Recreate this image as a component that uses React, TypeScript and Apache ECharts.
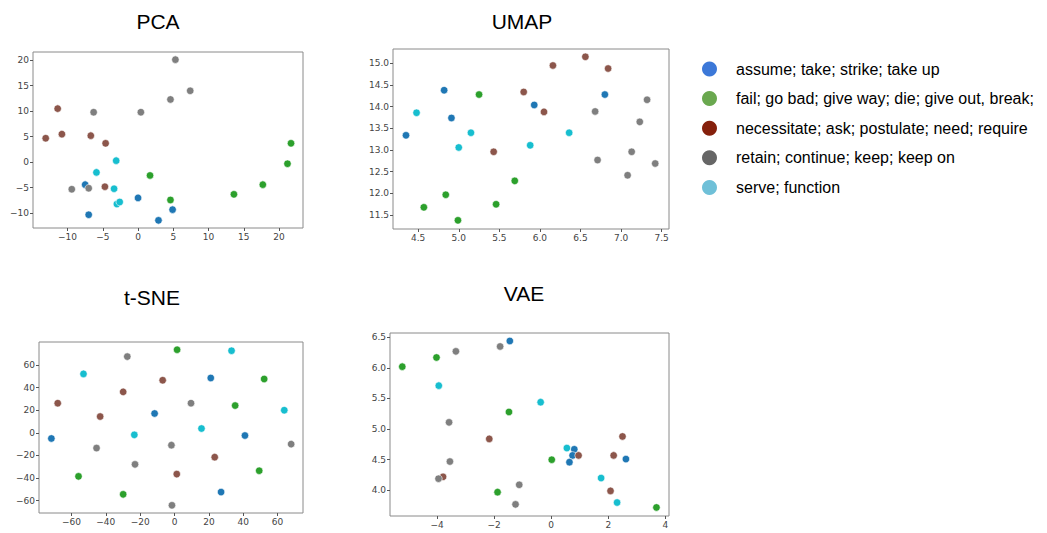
import React, { useEffect, useRef } from "react";
import * as echarts from "echarts";

const categories = [
  "assume; take; strike; take up",
  "fail; go bad; give way; die; give out, break;",
  "necessitate; ask; postulate; need; require",
  "retain; continue; keep; keep on",
  "serve; function",
];
const plotColors = ["#1f77b4", "#2ca02c", "#8c564b", "#7f7f7f", "#17becf"];
const legendColors = ["#3c78d8", "#6aa84f", "#85200c", "#666666", "#6fc0d8"];
const titles = ["PCA", "UMAP", "t-SNE", "VAE"];

// PCA
const pcaAssume = [[-7.5, -4.4], [-7.0, -10.3], [0.0, -7.0], [4.9, -9.3], [2.9, -11.4]];
const pcaFail = [[1.7, -2.6], [4.6, -7.4], [13.6, -6.3], [17.7, -4.4], [21.2, -0.3], [21.7, 3.7]];
const pcaNecessitate = [[-11.4, 10.5], [-13.1, 4.7], [-10.8, 5.5], [-6.7, 5.2], [-4.6, 3.7], [-4.7, -4.8]];
const pcaRetain = [[5.3, 20.1], [7.4, 14.0], [4.6, 12.3], [0.4, 9.8], [-6.3, 9.8], [-9.4, -5.3], [-7.0, -5.1]];
const pcaServe = [[-3.1, 0.3], [-5.9, -2.0], [-3.4, -5.2], [-3.0, -8.2], [-2.6, -7.8]];

// UMAP
const umapAssume = [[4.82, 14.38], [4.35, 13.34], [4.91, 13.74], [5.93, 14.04], [6.8, 14.28]];
const umapFail = [[5.25, 14.28], [5.69, 12.29], [4.84, 11.97], [4.57, 11.68], [5.46, 11.75], [4.99, 11.38]];
const umapNecessitate = [[6.56, 15.15], [6.16, 14.95], [6.84, 14.88], [5.8, 14.34], [6.05, 13.88], [5.43, 12.96]];
const umapRetain = [[7.32, 14.16], [6.68, 13.89], [7.23, 13.65], [7.13, 12.96], [6.71, 12.77], [7.42, 12.69], [7.08, 12.42]];
const umapServe = [[4.48, 13.86], [5.15, 13.4], [5.0, 13.06], [5.88, 13.11], [6.36, 13.4]];

// t-SNE
const tsneAssume = [[21.1, 48.5], [-11.6, 17.1], [-71.7, -5], [41, -2.4], [27.1, -52.4]];
const tsneFail = [[1.5, 73.5], [52.2, 47.6], [35.3, 24.1], [49.3, -33.5], [-55.9, -38.5], [-29.9, -54.4]];
const tsneNecessitate = [[-6.9, 46.5], [-29.9, 36.2], [-68.0, 26.2], [-43.3, 14.4], [23.4, -21.5], [1.3, -36.5]];
const tsneRetain = [[-27.5, 67.4], [9.6, 26.2], [-45.4, -13.5], [-1.8, -10.9], [-23.0, -27.9], [-1.5, -64.1], [67.9, -10]];
const tsneServe = [[33.2, 72.6], [-53.0, 52.1], [63.9, 20], [15.7, 3.8], [-23.4, -1.8]];

// VAE
const vaeAssume = [[-1.45, 6.44], [0.81, 4.67], [0.75, 4.57], [0.64, 4.46], [2.62, 4.51]];
const vaeFail = [[-5.22, 6.02], [-4.02, 6.17], [-1.48, 5.28], [0.02, 4.5], [-1.88, 3.97], [3.69, 3.72]];
const vaeNecessitate = [[-2.17, 4.84], [-3.79, 4.22], [0.96, 4.57], [2.19, 4.57], [2.5, 4.88], [2.08, 3.99]];
const vaeRetain = [[-3.34, 6.27], [-1.79, 6.35], [-3.58, 5.11], [-3.55, 4.47], [-3.95, 4.19], [-1.12, 4.09], [-1.25, 3.77]];
const vaeServe = [[-3.94, 5.71], [-0.37, 5.44], [0.55, 4.69], [1.75, 4.2], [2.31, 3.8]];

const methodData = [
  [pcaAssume, pcaFail, pcaNecessitate, pcaRetain, pcaServe],
  [umapAssume, umapFail, umapNecessitate, umapRetain, umapServe],
  [tsneAssume, tsneFail, tsneNecessitate, tsneRetain, tsneServe],
  [vaeAssume, vaeFail, vaeNecessitate, vaeRetain, vaeServe],
];

// tick labels
const pcaXTicks = [-10, -5, 0, 5, 10, 15, 20];
const pcaYTicks = [-10, -5, 0, 5, 10, 15, 20];
const umapXTicks = [4.5, 5.0, 5.5, 6.0, 6.5, 7.0, 7.5];
const umapYTicks = [11.5, 12.0, 12.5, 13.0, 13.5, 14.0, 14.5, 15.0];
const tsneXTicks = [-60, -40, -20, 0, 20, 40, 60];
const tsneYTicks = [-60, -40, -20, 0, 20, 40, 60];
const vaeXTicks = [-4, -2, 0, 2, 4];
const vaeYTicks = [4.0, 4.5, 5.0, 5.5, 6.0, 6.5];

const xTicks = [pcaXTicks, umapXTicks, tsneXTicks, vaeXTicks];
const yTicks = [pcaYTicks, umapYTicks, tsneYTicks, vaeYTicks];
const xDecimals = [0, 1, 0, 0];
const yDecimals = [0, 1, 0, 1];
const xRanges = [[-14.9, 23.4], [4.19, 7.59], [-78.9, 74.8], [-5.65, 4.13]];
const yRanges = [[-12.9, 21.6], [11.18, 15.33], [-70.9, 80.3], [3.58, 6.57]];

const grids = [
  { left: 33, top: 52, width: 270, height: 176 },
  { left: 393, top: 49, width: 276, height: 180 },
  { left: 39, top: 342, width: 264, height: 171 },
  { left: 390, top: 333, width: 279, height: 183 },
];
const titlePos = [[158, 21], [522, 21], [152, 297], [524, 293]];

const fmt = (d: number) => (v: number) => {
  const s = v.toFixed(d);
  return s.replace("-", "\u2212");
};

export default function App() {
  const ref = useRef<HTMLDivElement>(null);
  useEffect(() => {
    if (!ref.current) return;
    const chart = echarts.init(ref.current, undefined, { renderer: "svg" });
    const tickFont = { fontFamily: "DejaVu Sans", fontSize: 9, color: "#444" };
    const xAxis = grids.map((_, i) => ({
      type: "value",
      gridIndex: i,
      position: "bottom",
      min: xRanges[i][0],
      max: xRanges[i][1],
      axisLine: { show: false, onZero: false },
      splitLine: { show: false },
      axisTick: { show: true, length: 3, customValues: xTicks[i], lineStyle: { color: "#555" } },
      axisLabel: { ...tickFont, margin: 4, customValues: xTicks[i], formatter: fmt(xDecimals[i]) },
    }));
    const yAxis = grids.map((_, i) => ({
      type: "value",
      gridIndex: i,
      position: "left",
      min: yRanges[i][0],
      max: yRanges[i][1],
      axisLine: { show: false, onZero: false },
      splitLine: { show: false },
      axisTick: { show: true, length: 3, customValues: yTicks[i], lineStyle: { color: "#555" } },
      axisLabel: { ...tickFont, margin: 4, customValues: yTicks[i], formatter: fmt(yDecimals[i]) },
    }));
    const series: any[] = [];
    methodData.forEach((cats, gi) => {
      cats.forEach((pts, ci) => {
        series.push({
          type: "scatter",
          name: categories[ci],
          xAxisIndex: gi,
          yAxisIndex: gi,
          data: pts,
          symbolSize: 7.5,
          itemStyle: { color: plotColors[ci], borderColor: "#fff", borderWidth: 0.6, opacity: 1 },
        });
      });
    });
    const graphic: any[] = [];
    titles.forEach((t, i) => {
      graphic.push({
        type: "text",
        x: titlePos[i][0],
        y: titlePos[i][1],
        style: {
          text: t,
          fontFamily: "Liberation Sans",
          fontSize: 21,
          fill: "#000",
          textAlign: "center",
          textVerticalAlign: "middle",
        },
      });
    });
    categories.forEach((c, i) => {
      const y = 69 + i * 29.6;
      graphic.push({
        type: "circle",
        shape: { cx: 709.5, cy: y, r: 7.5 },
        style: { fill: legendColors[i] },
      });
      graphic.push({
        type: "text",
        x: 736,
        y: y,
        style: {
          text: c,
          fontFamily: "Liberation Sans",
          fontSize: 16,
          fill: "#000",
          textAlign: "left",
          textVerticalAlign: "middle",
        },
      });
    });
    chart.setOption({
      animation: false,
      backgroundColor: "#fff",
      grid: grids.map((g) => ({ ...g, show: true, borderColor: "#8a8a8a", borderWidth: 1, backgroundColor: "transparent" })),
      xAxis,
      yAxis,
      series,
      graphic,
    });
    return () => chart.dispose();
  }, []);
  return (
    <div
      ref={ref}
      style={{ position: "fixed", left: 0, top: 0, width: 1047, height: 533, background: "#fff" }}
    />
  );
}
